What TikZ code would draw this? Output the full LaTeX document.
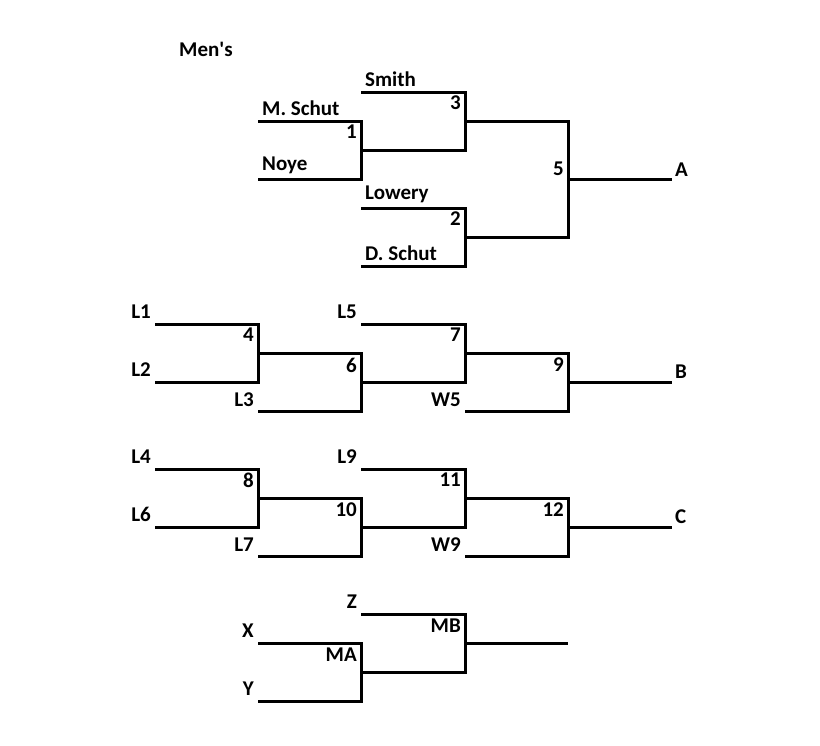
\documentclass[tikz,border=0pt]{standalone}
\usepackage{fontspec}
\setmainfont{Carlito}
\tikzset{
  wire/.style={line width=3pt},
  lbl/.style={inner sep=1pt,font=\bfseries\fontsize{21}{21}\selectfont}
}
\begin{document}
\begin{tikzpicture}[x=1pt,y=-1pt]
\useasboundingbox (0,0) rectangle (820,745);
% title
\node[lbl,anchor=south west] (mens) at (178,58) {Men\textquotesingle s};
% top bracket
\draw[wire] (258,121) -- (361,121) -- (361,179) -- (258,179);
\draw[wire] (361,92) -- (465,92) -- (465,150) -- (361,150);
\draw[wire] (361,208) -- (465,208) -- (465,266) -- (361,266);
\draw[wire] (465,121) -- (568,121) -- (568,237) -- (465,237);
\draw[wire] (568,179) -- (672,179);
\node[lbl,anchor=south west] (mschut) at (261,117) {M. Schut};
\node[lbl,anchor=south west] (noye) at (261,175) {Noye};
\node[lbl,anchor=south west] (smith) at (364,88) {Smith};
\node[lbl,anchor=south west] (lowery) at (364,204) {Lowery};
\node[lbl,anchor=south west] (dschut) at (364,262) {D. Schut};
\node[lbl,anchor=north east] (m1) at (358,124) {1};
\node[lbl,anchor=north east] (m3) at (462,95) {3};
\node[lbl,anchor=north east] (m2) at (462,211) {2};
\node[lbl,anchor=south east] (m5) at (565,177) {5};
\node[lbl,anchor=south west] (a) at (674,178) {A};
% second and third brackets
\foreach \dy/\la/\lb/\lc/\ld/\le/\ma/\mb/\mc/\md/\out in
  {0/L1/L2/L3/L5/W5/4/6/7/9/B, 145/L4/L6/L7/L9/W9/8/10/11/12/C}{
  \draw[wire] (155,324+\dy) -- (258,324+\dy) -- (258,382+\dy) -- (155,382+\dy);
  \draw[wire] (258,353+\dy) -- (361,353+\dy) -- (361,411+\dy) -- (258,411+\dy);
  \draw[wire] (361,324+\dy) -- (465,324+\dy) -- (465,382+\dy) -- (361,382+\dy);
  \draw[wire] (465,353+\dy) -- (568,353+\dy) -- (568,411+\dy) -- (465,411+\dy);
  \draw[wire] (568,382+\dy) -- (672,382+\dy);
  \node[lbl,anchor=south east] at (152,320+\dy) {\la};
  \node[lbl,anchor=south east] at (152,378+\dy) {\lb};
  \node[lbl,anchor=south east] at (255,408+\dy) {\lc};
  \node[lbl,anchor=south east] at (358,320+\dy) {\ld};
  \node[lbl,anchor=south east] at (462,408+\dy) {\le};
  \node[lbl,anchor=north east] at (255,327+\dy) {\ma};
  \node[lbl,anchor=north east] at (358,357+\dy) {\mb};
  \node[lbl,anchor=north east] at (462,327+\dy) {\mc};
  \node[lbl,anchor=north east] at (565,357+\dy) {\md};
  \node[lbl,anchor=south west] at (674,380+\dy) {\out};
}
% bottom bracket
\draw[wire] (258,643) -- (361,643) -- (361,701) -- (258,701);
\draw[wire] (361,614) -- (465,614) -- (465,672) -- (361,672);
\draw[wire] (465,643) -- (568,643);
\node[lbl,anchor=south east] (z) at (358,610) {Z};
\node[lbl,anchor=south east] (x) at (255,639) {X};
\node[lbl,anchor=south east] (y) at (255,697) {Y};
\node[lbl,anchor=north east] (ma) at (358,647) {MA};
\node[lbl,anchor=north east] (mb) at (462,618) {MB};
\end{tikzpicture}
\end{document}
